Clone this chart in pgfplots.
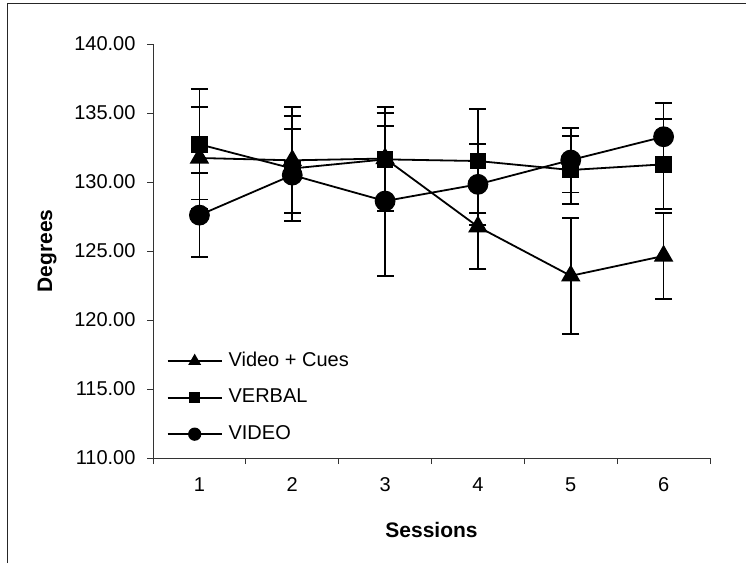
\documentclass[border=0pt]{standalone}
\usepackage{pgfplots}
\pgfplotsset{compat=1.18}
\usepackage{fontspec}
\setmainfont{Liberation Sans}
\begin{document}
\begin{tikzpicture}[x=1pt,y=1pt]
\useasboundingbox (0,0) rectangle (746,563);
\draw[line width=1.3pt, black!85] (7.5,0) -- (7.5,559.5) -- (746,559.5);
\begin{axis}[
  at={(153pt,105pt)}, anchor=south west,
  scale only axis, width=557pt, height=414pt,
  xmin=0.5, xmax=6.5, ymin=110, ymax=140,
  axis x line*=bottom, axis y line*=left,
  axis line style={-, black!80, line width=1pt},
  tick align=outside,
  xtick={1,...,6},
  major x tick style={draw=none},
  minor xtick={0.5,1.5,...,6.5},
  minor tick length=6pt,
  minor x tick style={black!80, line width=1pt},
  ytick={110,115,...,140},
  major tick length=6pt,
  y tick style={black!80, line width=1pt},
  /pgf/number format/assume math mode=true,
  yticklabel style={/pgf/number format/.cd, fixed, fixed zerofill, precision=2, /tikz/.cd, xshift=-8pt},
  tick label style={font=\fontsize{20}{24}\selectfont},
  xticklabel style={yshift=-10pt},
  xlabel={Sessions},
  ylabel={Degrees},
  every axis x label/.style={at={(axis description cs:0.5,-0.174)}, anchor=center, font=\fontsize{21}{25}\selectfont\bfseries},
  every axis y label/.style={at={(axis description cs:-0.19,0.5)}, rotate=90, anchor=center, font=\fontsize{21}{25}\selectfont\bfseries},
  legend style={draw=none, fill=none, at={(axis description cs:0.019,0.0305)}, anchor=south west,
    font=\fontsize{20}{24}\selectfont, row sep=18.5pt,
    nodes={inner sep=0pt, text height=14pt, text depth=4pt}},
  legend cell align=left,
  legend image code/.code={\draw[mark repeat=2,mark phase=2,#1, every mark/.append style={scale=0.6}] plot coordinates {(0pt,0pt) (27pt,0pt) (54pt,0pt)}; \path (60pt,0pt);},
  every axis plot/.append style={black, line width=1.8pt},
  error bars/error bar style={line width=1.8pt},
  error bars/error mark options={rotate=90, mark size=8.5pt, line width=1.8pt},
]
\addplot[mark=triangle*, mark size=9.5pt, mark options={solid}, error bars/.cd, y dir=both, y explicit]
  coordinates {
  (1,131.74) +- (0,3.67)
  (2,131.57) +- (0,3.84)
  (3,131.70) +- (0,3.30)
  (4,126.76) +- (0,3.06)
  (5,123.20) +- (0,4.20)
  (6,124.64) +- (0,3.14)
};
\addlegendentry{Video + Cues}
\addplot[mark=square*, mark size=7.5pt, error bars/.cd, y dir=both, y explicit]
  coordinates {
  (1,132.73) +- (0,4.00)
  (2,130.98) +- (0,3.82)
  (3,131.64) +- (0,3.77)
  (4,131.52) +- (0,3.75)
  (5,130.87) +- (0,2.49)
  (6,131.28) +- (0,3.26)
};
\addlegendentry{VERBAL}
\addplot[mark=*, mark size=9.5pt, error bars/.cd, y dir=both, y explicit]
  coordinates {
  (1,127.60) +- (0,3.05)
  (2,130.50) +- (0,3.32)
  (3,128.62) +- (0,5.45)
  (4,129.83) +- (0,2.95)
  (5,131.59) +- (0,2.35)
  (6,133.28) +- (0,2.42)
};
\addlegendentry{VIDEO}
\end{axis}
\end{tikzpicture}
\end{document}
